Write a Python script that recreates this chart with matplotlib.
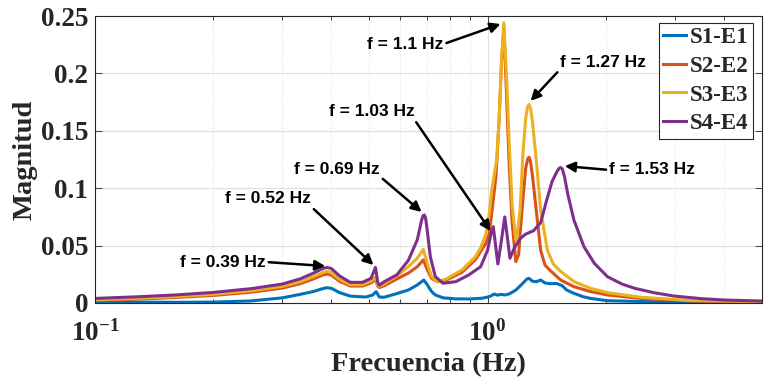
import matplotlib
matplotlib.use('Agg')
import matplotlib.pyplot as plt
from matplotlib.font_manager import FontProperties
from matplotlib.ticker import FixedLocator, FixedFormatter, LogLocator, NullFormatter

# ---------------- data ----------------
series_names = ['S1-E1', 'S2-E2', 'S3-E3', 'S4-E4']
series_colors = ['#0072BD', '#D95319', '#EDB120', '#7E2F8E']

f_s1 = [0.10, 0.13, 0.16, 0.20, 0.25, 0.30, 0.333, 0.36, 0.38, 0.39, 0.40, 0.42, 0.447,
        0.49, 0.51, 0.52, 0.53, 0.545, 0.582, 0.628, 0.662, 0.688, 0.70, 0.72, 0.736,
        0.77, 0.83, 0.90, 0.97, 1.01, 1.04, 1.06, 1.08, 1.11, 1.14, 1.18, 1.22, 1.26,
        1.275, 1.30, 1.33, 1.365, 1.40, 1.44, 1.50, 1.55, 1.59, 1.66, 1.75, 1.83, 2.02,
        2.5, 3.5, 5.0]
m_s1 = [0.0012, 0.0008, 0.0006, 0.0008, 0.0018, 0.0045, 0.0075, 0.0100, 0.0125, 0.0133,
        0.0128, 0.0090, 0.0060, 0.0052, 0.0070, 0.0099, 0.0052, 0.0050, 0.0078, 0.0113,
        0.0157, 0.0200, 0.0165, 0.0100, 0.0070, 0.0045, 0.0036, 0.0035, 0.0042, 0.0055,
        0.0078, 0.0068, 0.0075, 0.0070, 0.0082, 0.0113, 0.0160, 0.0210, 0.0215, 0.0190,
        0.0185, 0.0200, 0.0175, 0.0168, 0.0170, 0.0150, 0.0113, 0.0084, 0.0055, 0.0040,
        0.0020, 0.0012, 0.0008, 0.0006]

f_s2 = [0.10, 0.13, 0.16, 0.20, 0.25, 0.30, 0.333, 0.36, 0.38, 0.39, 0.40, 0.42, 0.447,
        0.48, 0.505, 0.518, 0.525, 0.53, 0.545, 0.587, 0.628, 0.662, 0.686, 0.70, 0.72,
        0.745, 0.785, 0.86, 0.93, 0.99, 1.01, 1.03, 1.05, 1.07, 1.085, 1.10, 1.115, 1.135,
        1.155, 1.18, 1.20, 1.21, 1.23, 1.25, 1.265, 1.275, 1.285, 1.30, 1.33, 1.365, 1.40,
        1.44, 1.535, 1.66, 1.83, 2.02, 2.46, 3.3, 5.0]
m_s2 = [0.0022, 0.0035, 0.0048, 0.0066, 0.0094, 0.0130, 0.0168, 0.0210, 0.0243, 0.0252,
        0.0243, 0.0188, 0.0148, 0.0148, 0.0175, 0.0205, 0.0148, 0.0135, 0.0150, 0.0209,
        0.0260, 0.0316, 0.0375, 0.0300, 0.0215, 0.0186, 0.0200, 0.0267, 0.0375, 0.0520,
        0.0607, 0.0850, 0.1100, 0.1600, 0.2100, 0.2400, 0.1900, 0.1200, 0.0700, 0.0360,
        0.0420, 0.0600, 0.0900, 0.1170, 0.1255, 0.1270, 0.1240, 0.1120, 0.0810, 0.0460,
        0.0330, 0.0287, 0.0200, 0.0142, 0.0099, 0.0070, 0.0040, 0.0018, 0.0010]

f_s3 = [0.10, 0.13, 0.16, 0.20, 0.25, 0.30, 0.333, 0.36, 0.38, 0.39, 0.40, 0.42, 0.447,
        0.48, 0.505, 0.518, 0.525, 0.53, 0.545, 0.587, 0.628, 0.662, 0.686, 0.70, 0.72,
        0.745, 0.785, 0.86, 0.93, 0.96, 0.99, 1.01, 1.025, 1.04, 1.055, 1.07, 1.085, 1.10,
        1.12, 1.135, 1.155, 1.18, 1.19, 1.21, 1.23, 1.25, 1.262, 1.275, 1.288, 1.30, 1.33,
        1.365, 1.42, 1.47, 1.535, 1.66, 1.83, 2.02, 2.46, 3.3, 5.0]
m_s3 = [0.0028, 0.0042, 0.0056, 0.0076, 0.0106, 0.0145, 0.0185, 0.0230, 0.0265, 0.0275,
        0.0265, 0.0205, 0.0160, 0.0160, 0.0190, 0.0225, 0.0160, 0.0145, 0.0165, 0.0235,
        0.0316, 0.0390, 0.0467, 0.0360, 0.0230, 0.0186, 0.0210, 0.0287, 0.0400, 0.0480,
        0.0600, 0.0780, 0.0980, 0.1120, 0.1250, 0.1600, 0.2100, 0.2440, 0.1900, 0.1400,
        0.0850, 0.0550, 0.0600, 0.0810, 0.1300, 0.1600, 0.1700, 0.1730, 0.1690, 0.1590,
        0.1250, 0.0810, 0.0460, 0.0340, 0.0275, 0.0186, 0.0128, 0.0090, 0.0050, 0.0022,
        0.0012]

f_s4 = [0.10, 0.13, 0.16, 0.20, 0.25, 0.30, 0.333, 0.36, 0.38, 0.39, 0.40, 0.42, 0.447,
        0.48, 0.505, 0.518, 0.525, 0.53, 0.545, 0.587, 0.628, 0.662, 0.679, 0.685, 0.69,
        0.695, 0.70, 0.715, 0.736, 0.77, 0.83, 0.895, 0.96, 1.00, 1.02, 1.034, 1.048,
        1.062, 1.085, 1.106, 1.125, 1.14, 1.17, 1.21, 1.25, 1.31, 1.365, 1.41, 1.46, 1.50,
        1.52, 1.535, 1.55, 1.57, 1.60, 1.66, 1.76, 1.87, 2.02, 2.2, 2.37, 2.65, 2.98, 3.5,
        4.0, 5.0]
m_s4 = [0.0040, 0.0055, 0.0070, 0.0092, 0.0125, 0.0165, 0.0210, 0.0260, 0.0300, 0.0310,
        0.0300, 0.0235, 0.0180, 0.0180, 0.0215, 0.0310, 0.0180, 0.0155, 0.0185, 0.0245,
        0.0370, 0.0550, 0.0720, 0.0760, 0.0767, 0.0740, 0.0665, 0.0400, 0.0230, 0.0172,
        0.0186, 0.0244, 0.0316, 0.0460, 0.0600, 0.0665, 0.0500, 0.0340, 0.0550, 0.0750,
        0.0550, 0.0390, 0.0480, 0.0560, 0.0600, 0.0630, 0.0700, 0.0880, 0.1060, 0.1140,
        0.1172, 0.1180, 0.1168, 0.1100, 0.0950, 0.0720, 0.0490, 0.0346, 0.0229, 0.0165,
        0.0128, 0.0090, 0.0061, 0.0038, 0.0026, 0.0017]

series_f = [f_s1, f_s2, f_s3, f_s4]
series_m = [m_s1, m_s2, m_s3, m_s4]

ann_labels = ['f = 0.39 Hz', 'f = 0.52 Hz', 'f = 0.69 Hz', 'f = 1.03 Hz',
              'f = 1.1 Hz', 'f = 1.27 Hz', 'f = 1.53 Hz']
ann_tip_f = [0.386, 0.512, 0.679, 1.018, 1.079, 1.287, 1.572]
ann_tip_m = [0.0322, 0.0331, 0.0793, 0.0627, 0.243, 0.176, 0.1193]
ann_txt_f = [0.212, 0.276, 0.414, 0.506, 0.618, 1.966, 2.62]
ann_txt_m = [0.0357, 0.0906, 0.1167, 0.1664, 0.2256, 0.2099, 0.1159]
ann_relpos = [(1, 0.5), (1, 0), (1, 0), (1, 0), (1, 0.5), (0, 0), (0, 0.5)]

yticks = [0, 0.05, 0.1, 0.15, 0.2, 0.25]
ytick_labels = ['0', '0.05', '0.1', '0.15', '0.2', '0.25']
xticks = [0.1, 1.0]
xtick_labels = [r'$\mathbf{10^{-1}}$', r'$\mathbf{10^{0}}$']

# ---------------- style ----------------
plt.rcParams['mathtext.fontset'] = 'custom'
plt.rcParams['mathtext.rm'] = 'Liberation Serif:bold'
plt.rcParams['mathtext.bf'] = 'Liberation Serif:bold'
plt.rcParams['mathtext.it'] = 'Liberation Serif:bold'

serif = dict(family='Liberation Serif', weight='bold')
axc = '#262626'

fig = plt.figure(figsize=(7.64, 3.81), dpi=100)
ax = fig.add_axes([95 / 764, 1 - 303 / 381, 667 / 764, 287 / 381])

for f, m, c, n in zip(series_f, series_m, series_colors, series_names):
    ax.plot(f, m, color=c, lw=2.2, label=n, solid_joinstyle='round')

ax.set_xscale('log')
ax.set_xlim(0.1, 5.0)
ax.set_ylim(0, 0.25)

ax.xaxis.set_major_locator(FixedLocator(xticks))
ax.xaxis.set_major_formatter(FixedFormatter(xtick_labels))
ax.xaxis.set_minor_locator(LogLocator(base=10, subs=range(2, 10)))
ax.xaxis.set_minor_formatter(NullFormatter())
ax.yaxis.set_major_locator(FixedLocator(yticks))
ax.yaxis.set_major_formatter(FixedFormatter(ytick_labels))

ax.grid(True, which='major', color='#dedede', lw=0.8, ls='-')
ax.grid(True, which='minor', axis='x', color='#d8d8d8', lw=0.6, ls=':')
ax.set_axisbelow(True)

ax.tick_params(which='both', direction='in', top=True, right=True, color=axc, width=0.6)
ax.tick_params(which='major', length=5)
ax.tick_params(which='minor', length=3)
ax.tick_params(axis='y', pad=5)
ax.tick_params(axis='x', pad=12)
for lab in ax.get_yticklabels():
    lab.set_fontproperties(FontProperties(family='Liberation Serif', weight='bold', size=19.5))
    lab.set_color(axc)
for lab in ax.get_xticklabels():
    lab.set_fontsize(19.5)
    lab.set_color(axc)
for s in ax.spines.values():
    s.set_color(axc)
    s.set_linewidth(0.8)

ax.set_xlabel('Frecuencia (Hz)', fontsize=20.5, color=axc, labelpad=4, **serif)
ax.set_ylabel('Magnitud', fontsize=20.5, color=axc, labelpad=2, **serif)

for lbl, tf, tm, xf, xm, rp in zip(ann_labels, ann_tip_f, ann_tip_m, ann_txt_f, ann_txt_m, ann_relpos):
    ax.annotate(lbl, xy=(tf, tm), xytext=(xf, xm), textcoords='data',
                ha='center', va='center', fontsize=12.5, fontweight='bold',
                family='Liberation Sans', color='black',
                arrowprops=dict(arrowstyle='-|>', color='black', lw=1.8,
                                mutation_scale=15, shrinkA=0, shrinkB=0, relpos=rp))

leg = ax.legend(loc='upper right', bbox_to_anchor=(0.9865, 0.9767), borderaxespad=0,
                prop=dict(family='Liberation Serif', weight='bold', size=16.5),
                handlelength=1.0, handletextpad=0.15, labelspacing=0.33,
                borderpad=0.2, fancybox=False, framealpha=1, edgecolor=axc)
leg.get_frame().set_linewidth(0.8)
for t in leg.get_texts():
    t.set_color(axc)

fig.savefig('out.png', dpi=100)
